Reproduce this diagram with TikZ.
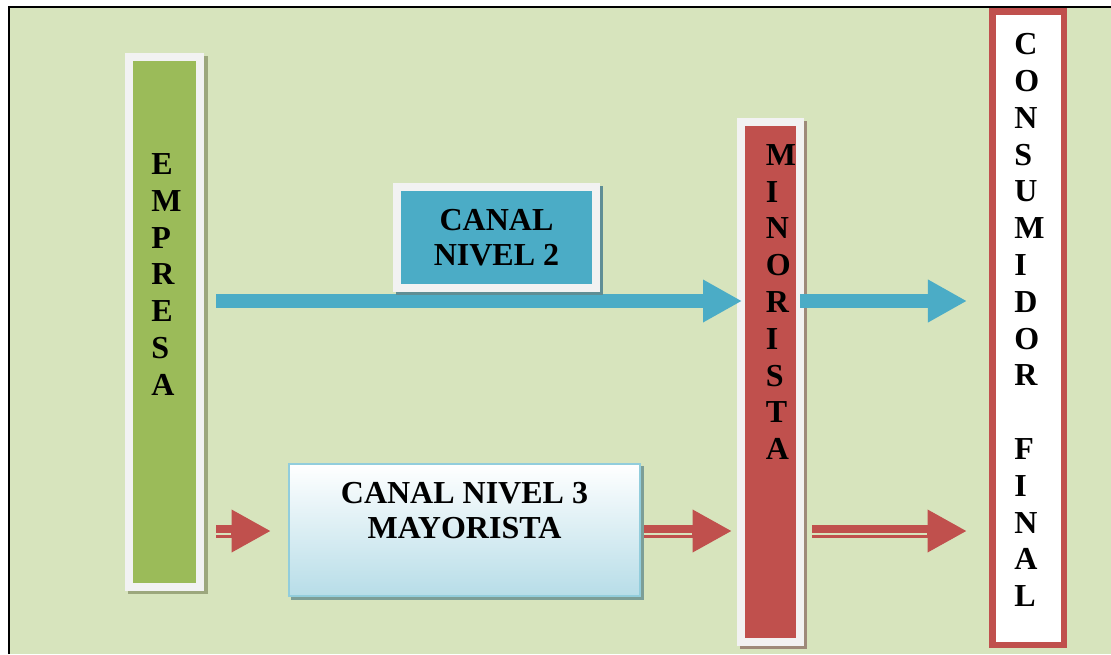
\documentclass[tikz,border=0pt]{standalone}
\usepackage{fontspec}
\setmainfont{Liberation Serif}
\usepackage{tikz}
\usetikzlibrary{arrows.meta, positioning}

\definecolor{bggreen}{HTML}{D7E4BD}
\definecolor{olive}{HTML}{9BBB59}
\definecolor{framewhite}{HTML}{F2F2F2}
\definecolor{oliveshadow}{HTML}{9CA77D}
\definecolor{canalblue}{HTML}{4BACC6}
\definecolor{blueshadow}{HTML}{5F8E95}
\definecolor{minred}{HTML}{C0504D}
\definecolor{redshadow}{HTML}{9E8A7A}
\definecolor{paleblue}{HTML}{B7DDE8}
\definecolor{paleborder}{HTML}{92CDDC}
\definecolor{paleshadow}{HTML}{7C9E97}

\begin{document}
\begin{tikzpicture}[
        x=0.75pt, y=-0.75pt,
        frame/.style={draw=framewhite, line width=6pt, outer sep=3pt, inner sep=0pt},
        shadowed/.style={preaction={draw=#1, fill=#1, transform canvas={shift={(2.5pt,-2.5pt)}}}},
        letters/.style={font=\bfseries\fontsize{24}{27.6}\selectfont, align=left, inner sep=0pt, anchor=west},
        boxtext/.style={font=\bfseries\fontsize{24}{26.25}\selectfont, align=center, inner sep=0pt},
        bluearrow/.style={draw=canalblue, line width=10pt, -{Triangle[length=29.25pt, width=30pt]}},
        redarrow/.style={draw=minred, line width=9.75pt, -{Triangle[length=29.6pt, width=30pt]}, shorten >=#1,
            postaction={draw=bggreen, line width=1.5pt, arrows=-, shorten >=#1+30pt, transform canvas={yshift=-1.875pt}}}
    ]

        % page and frame
        \useasboundingbox (0,0) rectangle (1111,654);
        \fill[white] (0,0) rectangle (1111,654);
        \fill[bggreen] (9,7) rectangle (1111,654);
        \draw[line width=1.9pt] (9,654) -- (9,7) -- (1111,7);

        \coordinate (lvl2) at (0,301);
        \coordinate (lvl3) at (0,531);

        % columns
        \node[frame, fill=olive, shadowed=oliveshadow, minimum width=53.6pt, minimum height=397.5pt] (empresa) at (164.5,322) {};
        \node[letters] (empresa text) at (151,274.5) {E\\M\\P\\R\\E\\S\\A};

        \node[frame, fill=minred, shadowed=redshadow, minimum width=44.25pt, minimum height=390pt] (minorista) at (770.5,382) {};
        \node[letters] (minorista text) at (765.5,302) {M\\I\\N\\O\\R\\I\\S\\T\\A};

        \node[draw=minred, fill=white, line width=4.9pt, outer sep=2.45pt, inner sep=0pt, minimum width=53.8pt, minimum height=475.1pt] (consumidor) at (1028.1,328.25) {};
        \node[letters] (consumidor text) at (1014,320) {C\\O\\N\\S\\U\\M\\I\\D\\O\\R\\[27.6pt]F\\I\\N\\A\\L};

        % nivel 3
        \node[draw=paleborder, line width=1.5pt, outer sep=0.75pt, top color=white, bottom color=paleblue, shadowed=paleshadow, minimum width=263.6pt, minimum height=98.8pt] (nivel3) at (464.25,529.8) {};
        \node[boxtext] (nivel3 text) at (464.5,511) {CANAL NIVEL 3\\MAYORISTA};

        % arrows
        \draw[bluearrow, shorten <=9pt, shorten >=-3.75pt] (empresa.east |- lvl2) -- (minorista.west |- lvl2);
        \draw[bluearrow, shorten <=-3pt, shorten >=16.5pt] (minorista.east |- lvl2) -- (consumidor.west |- lvl2);

        \draw[redarrow=12.4pt, shorten <=9pt] (empresa.east |- lvl3) -- (nivel3.west |- lvl3);
        \draw[redarrow=3.75pt, shorten <=2.25pt] (nivel3.east |- lvl3) -- (minorista.west |- lvl3);
        \draw[redarrow=16.5pt, shorten <=6pt] (minorista.east |- lvl3) -- (consumidor.west |- lvl3);

        % nivel 2
        \node[frame, fill=canalblue, shadowed=blueshadow, minimum width=149.25pt, minimum height=75.75pt, boxtext] (nivel2) at (496.5,237.5) {CANAL\\NIVEL 2};

    \end{tikzpicture}
\end{document}
